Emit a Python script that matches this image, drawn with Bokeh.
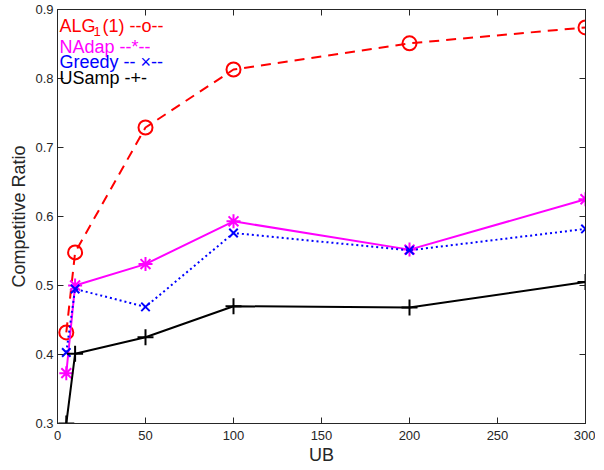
from bokeh.plotting import figure
from bokeh.models import Label, Range1d, FixedTicker, LinearAxis
from bokeh.embed import file_html
from bokeh.resources import INLINE

ub = [5, 10, 50, 100, 200, 300]
alg = [0.432, 0.548, 0.729, 0.813, 0.851, 0.874]
nadap = [0.373, 0.500, 0.531, 0.593, 0.552, 0.625]
greedy = [0.403, 0.495, 0.469, 0.576, 0.551, 0.582]
usamp = [0.300, 0.401, 0.425, 0.470, 0.468, 0.505]
xticks = [0, 50, 100, 150, 200, 250, 300]
yticks = [0.3, 0.4, 0.5, 0.6, 0.7, 0.8, 0.9]

FONT = "Liberation Sans"
AX = "#262626"

p = figure(output_backend="svg", toolbar_location=None,
           frame_width=528, frame_height=414,
           min_border_left=57, min_border_right=10, min_border_top=9, min_border_bottom=31,
           x_range=Range1d(0, 300), y_range=Range1d(0.3, 0.9))
p.outline_line_color = AX
p.outline_line_width = 1
p.xgrid.visible = False
p.ygrid.visible = False
p.background_fill_color = "white"
p.border_fill_color = "white"

for ax in (p.xaxis[0], p.yaxis[0]):
    ax.major_tick_in = 6
    ax.major_tick_out = 0
    ax.minor_tick_line_color = None
    ax.axis_line_color = AX
    ax.major_tick_line_color = AX
    ax.major_label_text_font = FONT
    ax.major_label_text_font_size = "13px"
    ax.major_label_text_color = AX
    ax.axis_label_text_font = FONT
    ax.axis_label_text_font_style = "normal"
    ax.axis_label_text_color = AX
    ax.axis_label_text_font_size = "18px"
p.xaxis.ticker = FixedTicker(ticks=xticks)
p.yaxis.ticker = FixedTicker(ticks=yticks)
p.xaxis.axis_label = "UB"
p.yaxis.axis_label = "Competitive Ratio"
p.xaxis.major_label_standoff = 7
p.xaxis.axis_label_standoff = 2
p.yaxis.major_label_standoff = 4
p.yaxis.axis_label_standoff = 3

p.line(ub, alg, color="#ff0000", line_width=2, line_dash="10 7")
p.scatter(ub, alg, marker="circle", size=14, line_color="#ff0000", fill_color=None, line_width=2)
p.line(ub, nadap, color="#ff00ff", line_width=2)
p.scatter(ub, nadap, marker="asterisk", size=14, line_color="#ff00ff", line_width=2)
p.line(ub, greedy, color="#0000ff", line_width=2, line_dash="2 3")
p.scatter(ub, greedy, marker="x", size=12, line_color="#0000ff", line_width=2)
p.line(ub, usamp, color="#000000", line_width=2)
p.scatter(ub, usamp, marker="cross", size=16, line_color="#000000", line_width=2)

top = LinearAxis(ticker=FixedTicker(ticks=xticks), major_label_text_font_size="0px",
                 major_tick_in=6, major_tick_out=0, minor_tick_line_color=None,
                 axis_line_color=AX, major_tick_line_color=AX, major_label_standoff=0)
right = LinearAxis(ticker=FixedTicker(ticks=yticks), major_label_text_font_size="0px",
                   major_tick_in=6, major_tick_out=0, minor_tick_line_color=None,
                   axis_line_color=AX, major_tick_line_color=AX, major_label_standoff=0)
top.major_label_overrides = {t: "" for t in xticks}
right.major_label_overrides = {t: "" for t in yticks}
p.add_layout(top, "above")
p.add_layout(right, "right")

def lab(x, y, t, c, s="18px"):
    p.add_layout(Label(x=x, y=y, x_units="screen", y_units="screen", text=t,
                       text_color=c, text_font=FONT, text_font_size=s,
                       text_baseline="alphabetic"))

H = 414
lab(2, H - 16, "ALG", "#ff0000")
lab(36, H - 22, "1", "#ff0000", "13px")
lab(45, H - 16, "(1) --o--", "#ff0000")
lab(2, H - 37, "NAdap --*--", "#ff00ff")
lab(2, H - 52, "Greedy -- \u00d7--", "#0000ff")
lab(2, H - 68, "USamp -+-", "#000000")

open("out.html", "w").write(file_html(p, INLINE))
